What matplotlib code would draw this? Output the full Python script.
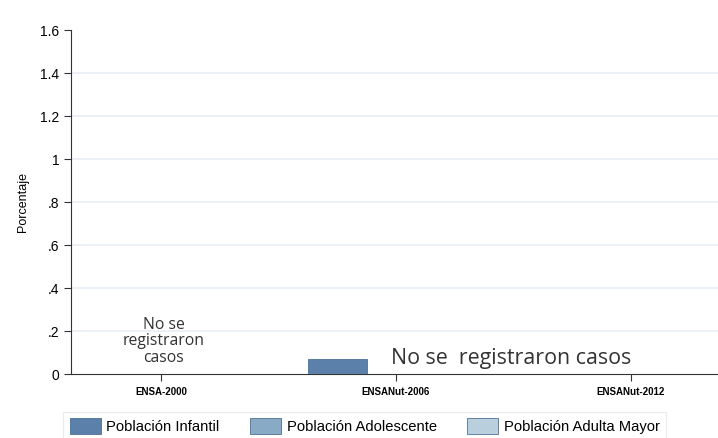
import numpy as np
import matplotlib.pyplot as plt

plt.rcParams['font.family'] = ['Liberation Sans', 'DejaVu Sans']

encuestas = ['ENSA-2000', 'ENSANut-2006', 'ENSANut-2012']
series = ['Población Infantil', 'Población Adolescente', 'Población Adulta Mayor']
infantil = [0.0, 0.07, 0.0]
adolescente = [0.0, 0.0, 0.0]
adulta_mayor = [0.0, 0.0, 0.0]
colores = ['#5b80a9', '#89aac4', '#bacfdd']
yticks = [0, 0.2, 0.4, 0.6, 0.8, 1.0, 1.2, 1.4, 1.6]
ylabels = ['0', '.2', '.4', '.6', '.8', '1', '1.2', '1.4', '1.6']

fig = plt.figure(figsize=(7.18, 4.38), dpi=100)
ax = fig.add_axes([0.0989, 0.1461, 0.9011, 0.7854])

x = np.arange(len(encuestas))
w = 0.25
for i, (vals, col, lab) in enumerate(zip([infantil, adolescente, adulta_mayor], colores, series)):
    ax.bar(x + (i - 1) * w, vals, w, color=col, edgecolor='#4d7199', linewidth=0.6, label=lab,
           zorder=3)

ax.set_xlim(-0.382, 2.37)
ax.set_ylim(0, 1.6)
ax.set_yticks(yticks)
ax.set_yticklabels(ylabels, fontsize=10)
ax.set_xticks(x)
ax.set_xticklabels(encuestas, fontsize=7, fontweight='bold')
ax.set_ylabel('Porcentaje', fontsize=9, labelpad=8)
# lineas de rejilla, sin la de arriba
for yv in yticks[1:-1]:
    ax.axhline(yv, color='#e6eef3', linewidth=1.2, zorder=0)
for s in ['top', 'right']:
    ax.spines[s].set_visible(False)
ax.spines['left'].set_color('#333333')
ax.spines['bottom'].set_color('#333333')
ax.tick_params(axis='both', length=5, width=0.8, color='#333333')
ax.tick_params(axis='x', pad=4)

ax.text(0.013, 0.152, 'No se\nregistraron\ncasos', ha='center', va='center', fontsize=11.3,
        family='Open Sans', color='#333333', linespacing=1.05)
ax.text(1.49, 0.072, 'No se  registraron casos', ha='center', va='center', fontsize=15.4,
        family='Open Sans', color='#333333')

leg = fig.legend(loc='upper left', bbox_to_anchor=(63 / 718, 0.060), ncol=3, fontsize=10.6,
                 frameon=True, fancybox=False, handlelength=2.1, handleheight=1.3,
                 columnspacing=2.05, borderpad=0.45, handletextpad=0.4, borderaxespad=0)
leg.get_frame().set_edgecolor('#e3e7ea')
leg.get_frame().set_linewidth(0.8)

fig.savefig('out.png', dpi=100)
